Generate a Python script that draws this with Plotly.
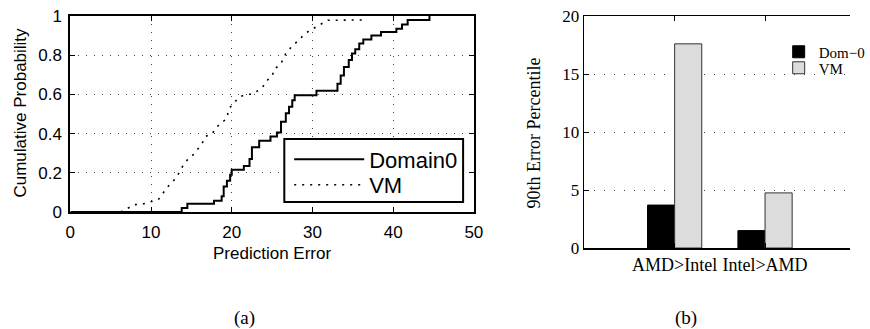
import plotly.graph_objects as go

# ---------------- data ----------------
dom0_x = [0, 13.8, 14.5, 17.8, 18.75, 19.0, 19.4, 19.8, 20.0, 21.5, 22.2, 22.5, 23.4, 24.8, 25.6,
          26.1, 26.7, 27.1, 27.5, 27.8, 30.5, 33.1, 33.5, 33.9, 34.5, 34.9, 35.3, 35.8, 36.3,
          37.3, 38.5, 40.4, 41.1, 41.8, 44.5]
dom0_y = [0, 0.02, 0.042, 0.057, 0.08, 0.13, 0.16, 0.19, 0.215, 0.235, 0.27, 0.33, 0.364, 0.385, 0.405,
          0.46, 0.504, 0.537, 0.57, 0.596, 0.618, 0.654, 0.697, 0.74, 0.775, 0.809, 0.83, 0.86, 0.88,
          0.90, 0.918, 0.935, 0.957, 0.98, 1.0]

vm_x = [6.25, 7.06, 7.9, 9.1, 10.1, 10.9, 11.5, 12.3, 13.1, 13.9, 14.5, 15.2, 15.7, 16.3, 16.7,
        17.6, 17.95, 18.7, 19.4, 19.6, 20.0, 20.6, 21.2, 21.8, 22.4, 23.2, 23.8, 24.3, 25.0, 25.3,
        26.0, 26.8, 27.6, 28.2, 29.1, 29.7, 30.5, 31.3, 31.9, 36.3]
vm_y = [0.0, 0.02, 0.037, 0.042, 0.054, 0.063, 0.097, 0.14, 0.173, 0.232, 0.266, 0.291, 0.317, 0.347, 0.385,
        0.398, 0.427, 0.452, 0.478, 0.52, 0.546, 0.571, 0.591, 0.6, 0.601, 0.618, 0.635, 0.669, 0.693, 0.732,
        0.749, 0.817, 0.851, 0.876, 0.91, 0.927, 0.947, 0.964, 0.978, 0.98]

bar_pos = [1, 2]
bar_categories = ["AMD>Intel", "Intel>AMD"]
dom0_p90 = [3.7, 1.5]
vm_p90 = [17.6, 4.75]

x_ticks_a = [0, 10, 20, 30, 40, 50]
y_ticks_a = [0, 0.2, 0.4, 0.6, 0.8, 1.0]
y_ticktext_a = ["0", "0.2", "0.4", "0.6", "0.8", "1"]
y_ticks_b = [0, 5, 10, 15, 20]

W, H = 870, 329
SANS = "Liberation Sans, Arial, sans-serif"
SERIF = "Liberation Serif, Times New Roman, serif"

def px_x(p):
    return p / W

def px_y(p):
    return 1 - p / H

fig = go.Figure()

fig.add_trace(go.Scatter(x=dom0_x, y=dom0_y, mode="lines", name="Domain0",
                         line=dict(color="black", width=2, shape="hv"),
                         xaxis="x", yaxis="y", legend="legend"))
fig.add_trace(go.Scatter(x=vm_x, y=vm_y, mode="lines", name="VM",
                         line=dict(color="black", width=1.6, dash="2px,6px"),
                         xaxis="x", yaxis="y", legend="legend4"))

fig.add_trace(go.Bar(x=bar_pos, y=dom0_p90, name="Dom\u22120",
                     marker=dict(color="black", line=dict(color="black", width=1)),
                     xaxis="x2", yaxis="y2", legend="legend2"))
fig.add_trace(go.Bar(x=bar_pos, y=vm_p90, name="VM",
                     marker=dict(color="#dcdcdc", line=dict(color="#333333", width=1)),
                     xaxis="x2", yaxis="y2", legend="legend3"))

grid_a = dict(showgrid=True, gridcolor="#444444", gridwidth=1, griddash="1px,7px")
small_legend = dict(xanchor="left", yanchor="middle", bgcolor="rgba(0,0,0,0)", borderwidth=0,
                    font=dict(family=SERIF, size=15, color="black"), itemwidth=30)
big_legend = dict(xanchor="left", yanchor="middle", bgcolor="rgba(0,0,0,0)", borderwidth=0,
                  font=dict(family=SANS, size=22, color="black"), itemwidth=70)

fig.update_layout(
    template="none",
    width=W, height=H,
    autosize=False,
    margin=dict(l=0, r=0, t=0, b=0, pad=0),
    paper_bgcolor="white", plot_bgcolor="white",
    barmode="group", bargap=0.4, bargroupgap=0,
    xaxis=dict(domain=[px_x(72), px_x(485)], range=[0, 50], tickvals=x_ticks_a,
               ticks="inside", ticklen=5, tickwidth=1, tickcolor="black",
               showline=True, linecolor="black", linewidth=2, mirror="ticks",
               zeroline=False, anchor="y", automargin=False,
               tickfont=dict(family=SANS, size=17, color="black"),
               ticklabelstandoff=4, **grid_a),
    yaxis=dict(domain=[px_y(212), px_y(16)], range=[0, 1], tickvals=y_ticks_a,
               ticktext=y_ticktext_a,
               ticks="inside", ticklen=5, tickwidth=1, tickcolor="black",
               showline=True, linecolor="black", linewidth=2, mirror="ticks",
               zeroline=False, anchor="x", automargin=False,
               tickfont=dict(family=SANS, size=17, color="black"),
               ticklabelstandoff=3, **grid_a),
    xaxis2=dict(domain=[px_x(598), 1.0], range=[0, 2.94], tickvals=bar_pos,
                ticktext=bar_categories,
                ticks="inside", ticklen=5, tickwidth=1, tickcolor="black",
                showline=True, linecolor="black", linewidth=1.5, mirror="ticks",
                zeroline=False, showgrid=False, anchor="y2", automargin=False,
                tickfont=dict(family=SERIF, size=18, color="black")),
    yaxis2=dict(domain=[px_y(248), px_y(16)], range=[0, 20], tickvals=y_ticks_b,
                ticks="inside", ticklen=5, tickwidth=1, tickcolor="black",
                showline=True, linecolor="black", linewidth=1.5, mirror=False,
                zeroline=False, anchor="x2", automargin=False,
                showgrid=True, gridcolor="#444444", gridwidth=1, griddash="1px,9px",
                tickfont=dict(family=SERIF, size=17, color="black"),
                ticklabelstandoff=0),
    legend=dict(x=px_x(296), y=px_y(159.5), **big_legend),
    legend4=dict(x=px_x(296), y=px_y(185), **big_legend),
    legend2=dict(x=px_x(797), y=px_y(52), **small_legend),
    legend3=dict(x=px_x(797), y=px_y(68), **small_legend),
    showlegend=True,
    shapes=[dict(type="rect", xref="paper", yref="paper",
                 x0=px_x(291), x1=px_x(474), y0=px_y(202), y1=px_y(139),
                 line=dict(color="black", width=2), fillcolor="white", layer="above")],
)

annotations = [
    dict(text="Cumulative Probability", x=px_x(20), y=px_y(113), textangle=-90,
         font=dict(family=SANS, size=17, color="black")),
    dict(text="Prediction Error", x=px_x(278), y=px_y(253),
         font=dict(family=SANS, size=17, color="black")),
    dict(text="90th Error Percentile", x=px_x(547), y=px_y(133), textangle=-90,
         font=dict(family=SERIF, size=18, color="black")),
    dict(text="(a)", x=px_x(250), y=px_y(318),
         font=dict(family=SERIF, size=19, color="black")),
    dict(text="(b)", x=px_x(702), y=px_y(318),
         font=dict(family=SERIF, size=19, color="black")),
]
for a in annotations:
    a.update(xref="paper", yref="paper", showarrow=False, xanchor="center", yanchor="middle")
fig.update_layout(annotations=annotations)

fig.write_html("out.html",
               config={"displayModeBar": False, "staticPlot": True},
               post_script="document.body.style.margin='0';document.body.style.overflow='hidden';")
